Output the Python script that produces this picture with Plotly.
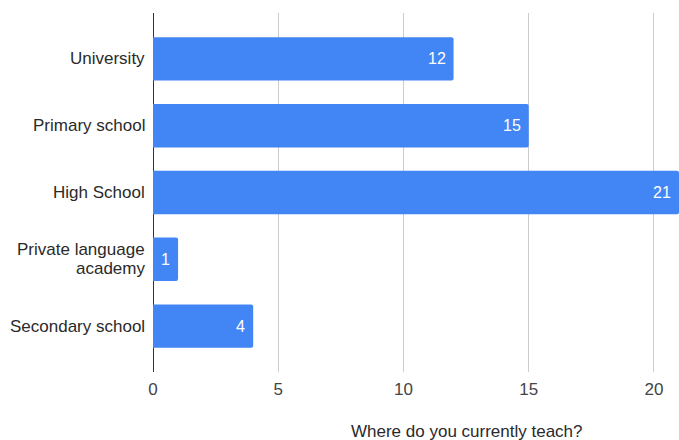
import plotly.graph_objects as go

categories = ["University", "Primary school", "High School", "Private language<br>academy", "Secondary school"]
values = [12, 15, 21, 1, 4]
x_ticks = [0, 5, 10, 15, 20]
axis_title = "Where do you currently teach?"

BAR = "#4285f4"
FONT = "Liberation Sans, Arial, sans-serif"
FS = 17

fig = go.Figure()
fig.add_trace(go.Bar(
    x=values, y=categories, orientation="h",
    marker=dict(color=BAR, line=dict(width=0)),
    hoverinfo="skip",
))

# value labels inside the bar ends
for c, v in zip(categories, values):
    fig.add_annotation(
        x=v, y=c, xref="x", yref="y", text=str(v),
        showarrow=False, xanchor="right", xshift=-6,
        font=dict(family=FONT, size=16, color="white"),
    )

# category labels (tight line spacing for multi-line labels)
LINE = 19
for c in categories:
    lines = c.split("<br>")
    n = len(lines)
    for i, ln in enumerate(lines):
        fig.add_annotation(
            x=0, y=c, xref="paper", yref="y", text=ln,
            showarrow=False, xanchor="right", xshift=-6,
            yshift=((n - 1) / 2 - i) * LINE,
            font=dict(family=FONT, size=FS, color="#2a2a2a"),
        )

plot_h = 440 - 13 - 68
fig.add_annotation(
    x=0.597, y=(440 - 68 - 432) / plot_h, xref="paper", yref="paper",
    text=axis_title, showarrow=False, yanchor="middle",
    font=dict(family=FONT, size=FS, color="#2a2a2a"),
)

fig.update_layout(
    width=679, height=440,
    margin=dict(l=153, r=0, t=13, b=68),
    paper_bgcolor="white", plot_bgcolor="white",
    showlegend=False,
    bargap=0.35,
    barcornerradius=2,
    font=dict(family=FONT, size=FS, color="#2a2a2a"),
    xaxis=dict(
        range=[0, 21.0], tickvals=x_ticks, ticktext=[str(t) for t in x_ticks],
        showgrid=True, gridcolor="#cccccc", gridwidth=1,
        zeroline=True, zerolinecolor="#333333", zerolinewidth=1,
        showline=False, ticks="", ticklabelstandoff=5,
        tickfont=dict(family=FONT, size=FS, color="#444"),
        fixedrange=True,
    ),
    yaxis=dict(
        categoryorder="array", categoryarray=categories,
        range=[4.687, -0.687],
        showgrid=False, zeroline=False, showline=False, ticks="",
        showticklabels=False,
        fixedrange=True,
    ),
)

fig.write_html("out.html")
